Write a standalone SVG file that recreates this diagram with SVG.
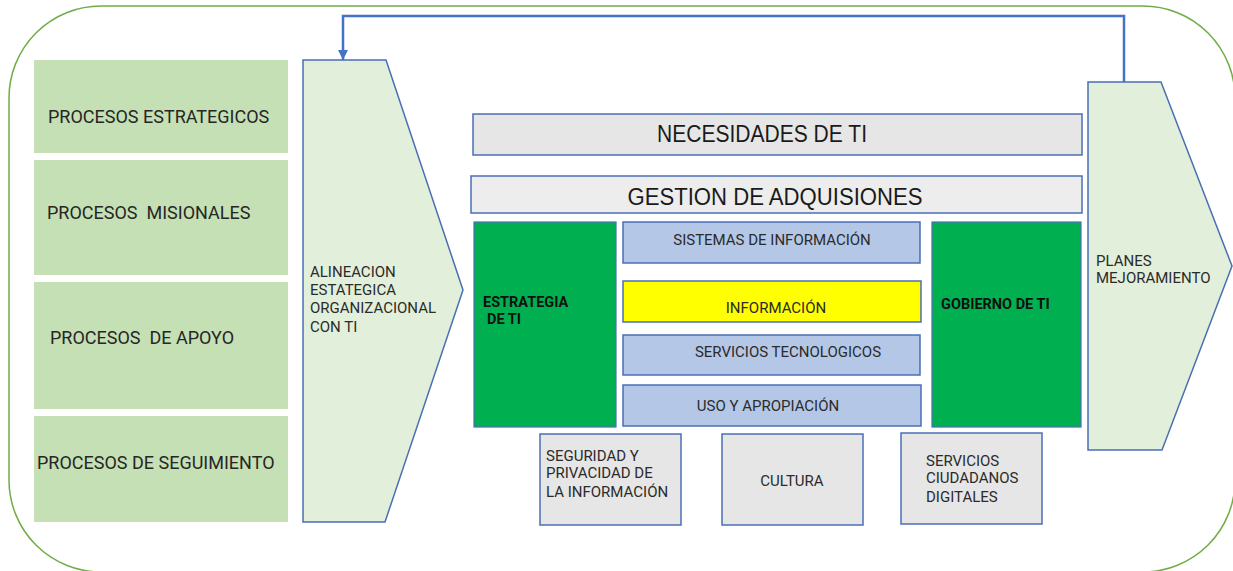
<svg xmlns="http://www.w3.org/2000/svg" width="1233" height="571" viewBox="0 0 1233 571">
<defs>
<style>
text{font-family:Roboto,"Liberation Sans",sans-serif;fill:#2b2b2b;font-size:15px}
.proc{fill:#c5e0b4}
.ptext{font-size:18px;fill:#262626}
.pent{fill:#e2efda;stroke:#4a6fb5;stroke-width:1.5}
.grey{fill:#e6e6e6;stroke:#4a6fb5;stroke-width:1.5}
.grey2{fill:#ededed;stroke:#4a6fb5;stroke-width:1.5}
.blue{fill:#b4c7e7;stroke:#4a6fb5;stroke-width:1.5}
.yel{fill:#ffff00;stroke:#4a6fb5;stroke-width:1.5}
.grn{fill:#00b050;stroke:#4a6fb5;stroke-width:1.2}
.big{font-family:"Liberation Sans",Arial,sans-serif;font-size:23px;fill:#1a1a1a}
.bold{font-weight:bold;fill:#111;font-size:14.5px}
.mid{text-anchor:middle}
.conn{fill:none;stroke:#4472c4;stroke-width:2.5}
</style>
<marker id="ah" markerWidth="10" markerHeight="10" refX="10" refY="5" orient="auto" markerUnits="userSpaceOnUse" viewBox="0 0 10 10">
<path d="M0,0 L10,5 L0,10 Z" fill="#4472c4"/>
</marker>
</defs>
<g id="frame"><rect x="9" y="6" width="1226" height="566" rx="92" ry="92" fill="#fff" stroke="#70ad47" stroke-width="1.5"/></g>
<g id="procesos-estrategicos"><rect class="proc" x="34" y="60" width="254" height="93"/><text class="ptext" x="48" y="123">PROCESOS ESTRATEGICOS</text></g>
<g id="procesos-misionales"><rect class="proc" x="34" y="160" width="254" height="115"/><text class="ptext" x="47" y="219" style="white-space:pre">PROCESOS  MISIONALES</text></g>
<g id="procesos-apoyo"><rect class="proc" x="34" y="282" width="254" height="127"/><text class="ptext" x="50" y="344" style="white-space:pre">PROCESOS  DE APOYO</text></g>
<g id="procesos-seguimiento"><rect class="proc" x="34" y="416" width="254" height="106"/><text class="ptext" x="37" y="469">PROCESOS DE SEGUIMIENTO</text></g>
<g id="alineacion"><polygon class="pent" points="303,60 386,60 463,290 385,522 303,522"/>
<text x="310" y="277">ALINEACION</text><text x="310" y="295">ESTATEGICA</text><text x="310" y="313">ORGANIZACIONAL</text><text x="310" y="332">CON TI</text></g>
<g id="necesidades"><rect class="grey" x="473" y="114" width="609" height="41"/><text class="big mid" x="762" y="142" textLength="210" lengthAdjust="spacingAndGlyphs">NECESIDADES DE TI</text></g>
<g id="gestion"><rect class="grey2" x="471" y="176" width="611" height="37"/><text class="big mid" x="775" y="205" textLength="295" lengthAdjust="spacingAndGlyphs">GESTION DE ADQUISIONES</text></g>
<g id="estrategia"><rect class="grn" x="474" y="222" width="142" height="205"/><text class="bold" x="483" y="307">ESTRATEGIA</text><text class="bold" x="487" y="324">DE TI</text></g>
<g id="sistemas"><rect class="blue" x="623" y="222" width="297" height="41"/><text class="mid" x="772" y="245">SISTEMAS DE INFORMACIÓN</text></g>
<g id="informacion"><rect class="yel" x="623" y="281" width="298" height="41"/><text class="mid" x="776" y="313">INFORMACIÓN</text></g>
<g id="servicios-tec"><rect class="blue" x="623" y="335" width="297" height="40"/><text class="mid" x="788" y="357">SERVICIOS TECNOLOGICOS</text></g>
<g id="uso"><rect class="blue" x="623" y="385" width="298" height="41"/><text class="mid" x="768" y="411">USO Y APROPIACIÓN</text></g>
<g id="gobierno"><rect class="grn" x="932" y="222" width="149" height="205"/><text class="bold" x="941" y="309">GOBIERNO DE TI</text></g>
<g id="planes"><polygon class="pent" points="1088,82 1161,82 1232,266 1162,450 1088,450"/>
<text x="1096" y="266">PLANES</text><text x="1096" y="283">MEJORAMIENTO</text></g>
<g id="seguridad"><rect class="grey" x="540" y="434" width="141" height="91"/><text x="546" y="461">SEGURIDAD Y</text><text x="546" y="478">PRIVACIDAD DE</text><text x="546" y="497">LA INFORMACIÓN</text></g>
<g id="cultura"><rect class="grey" x="722" y="434" width="141" height="91"/><text class="mid" x="792" y="486">CULTURA</text></g>
<g id="servicios-ciudadanos"><rect class="grey" x="901" y="433" width="141" height="91"/><text x="926" y="466">SERVICIOS</text><text x="926" y="483">CIUDADANOS</text><text x="926" y="502">DIGITALES</text></g>
<g id="connectors"><path class="conn" d="M1124,82 V16 H343 V60" marker-end="url(#ah)"/></g>
</svg>
